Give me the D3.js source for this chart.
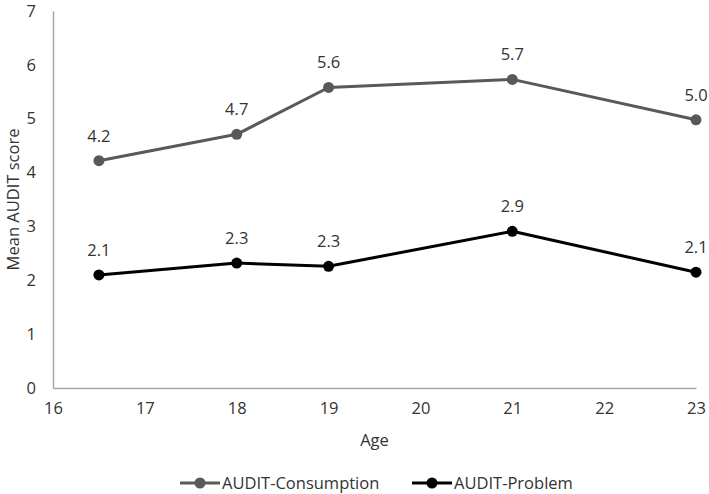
<!DOCTYPE html>
<html><head><meta charset="utf-8">
<script src="https://cdn.jsdelivr.net/npm/d3@7"></script>
<style>body{margin:0;background:#fff}svg{display:block}text{font-family:"Open Sans","Liberation Sans",sans-serif}</style>
</head><body>
<svg id="c" width="709" height="494"></svg>
<script>
const ages = [16.5, 18, 19, 21, 23];
const consumption = [4.22, 4.71, 5.58, 5.73, 4.98];
const problem = [2.10, 2.32, 2.26, 2.91, 2.15];
const consLabels = ["4.2", "4.7", "5.6", "5.7", "5.0"];
const probLabels = ["2.1", "2.3", "2.3", "2.9", "2.1"];
const xTicks = [16, 17, 18, 19, 20, 21, 22, 23];
const yTicks = [0, 1, 2, 3, 4, 5, 6, 7];
const seriesNames = ["AUDIT-Consumption", "AUDIT-Problem"];
const colors = ["#595959", "#000000"];

const svg = d3.select("#c");
const x = d3.scaleLinear().domain([16, 23]).range([53, 696]);
const y = d3.scaleLinear().domain([0, 7]).range([388, 11]);
const txt = "#333333";
const fs = "16.5px";

// axes
const xa = svg.append("g").attr("transform", `translate(0,${y(0)})`)
  .call(d3.axisBottom(x).tickValues(xTicks).tickSize(0).tickPadding(14).tickFormat(d3.format("d")));
const ya = svg.append("g").attr("transform", `translate(${x(16)},0)`)
  .call(d3.axisLeft(y).tickValues(yTicks).tickSize(0).tickPadding(17).tickFormat(d3.format("d")));
[xa, ya].forEach(a => {
  a.select(".domain").attr("stroke", "#a6a6a6").attr("stroke-width", 1.5);
  a.selectAll("text").attr("fill", txt).style("font-size", fs);
});

svg.append("text").attr("transform", `translate(19,${(y(0)+y(7))/2}) rotate(-90)`)
  .attr("text-anchor", "middle").attr("fill", txt).style("font-size", fs).text("Mean AUDIT score");
svg.append("text").attr("x", (x(16)+x(23))/2).attr("y", 446).attr("text-anchor", "middle")
  .attr("fill", txt).style("font-size", fs).text("Age");

const series = [consumption, problem];
const labels = [consLabels, probLabels];
const line = d3.line().x((d, i) => x(ages[i])).y(d => y(d));
series.forEach((s, k) => {
  svg.append("path").datum(s).attr("d", line).attr("fill", "none")
    .attr("stroke", colors[k]).attr("stroke-width", 3).attr("stroke-linejoin", "round");
  svg.selectAll(null).data(s).enter().append("circle")
    .attr("cx", (d, i) => x(ages[i])).attr("cy", d => y(d)).attr("r", 5.5).attr("fill", colors[k]);
  svg.selectAll(null).data(s).enter().append("text")
    .attr("x", (d, i) => x(ages[i])).attr("y", d => y(d) - 19).attr("text-anchor", "middle")
    .attr("fill", txt).style("font-size", fs).text((d, i) => labels[k][i]);
});

// legend
const legX = [180, 412];
seriesNames.forEach((n, k) => {
  const g = svg.append("g").attr("transform", `translate(${legX[k]},483)`);
  g.append("line").attr("x1", 0).attr("x2", 40).attr("y1", 0).attr("y2", 0)
    .attr("stroke", colors[k]).attr("stroke-width", 3);
  g.append("circle").attr("cx", 20).attr("cy", 0).attr("r", 5.5).attr("fill", colors[k]);
  g.append("text").attr("x", 42).attr("y", 5.5).attr("fill", txt).style("font-size", fs).text(n);
});
</script>
</body></html>
